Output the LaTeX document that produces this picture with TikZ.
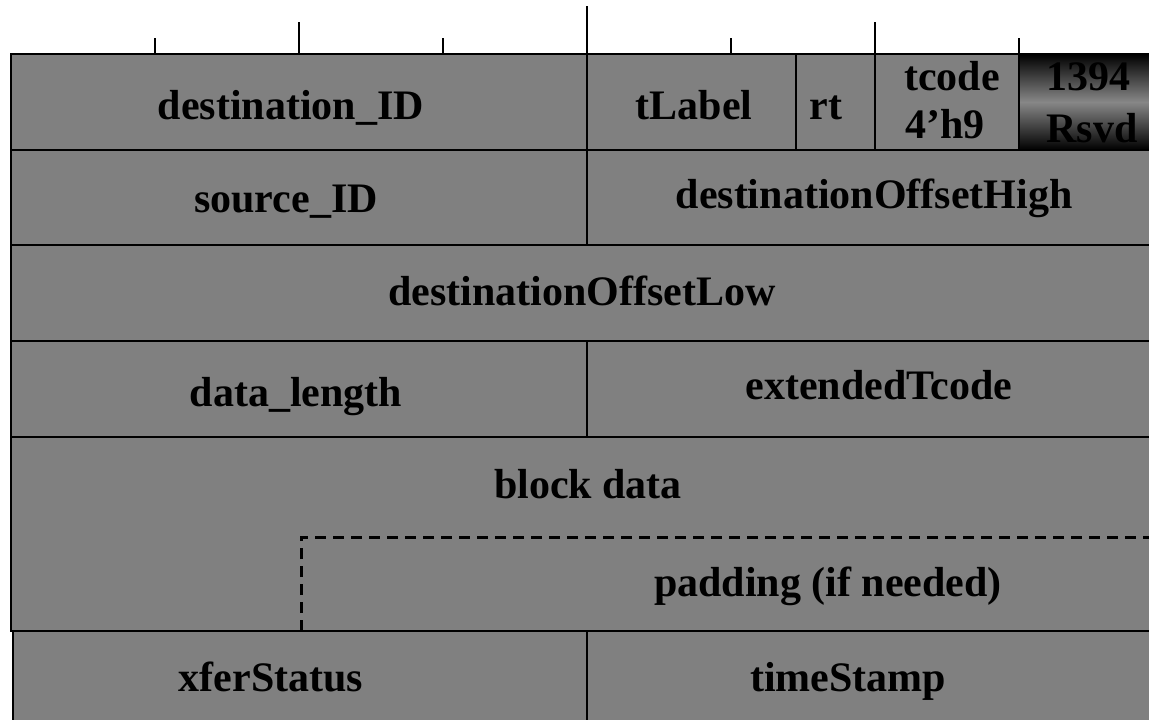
\documentclass[tikz,border=0pt]{standalone}
\usepackage{fontspec}
\setmainfont{Liberation Serif}
\begin{document}
\begin{tikzpicture}[x=1pt,y=-1pt,
  cell/.style={fill={rgb,255:red,128;green,128;blue,128},draw=black,line width=2.7pt},
  lbl/.style={anchor=base,inner sep=0pt,font=\fontsize{42}{42}\selectfont\bfseries,text=black},
  tick/.style={draw=black,line width=2.5pt},
  pad/.style={draw=black,line width=3pt,dash pattern=on 11pt off 7pt}]
\useasboundingbox (0,0) rectangle (1149,720);
\clip (0,0) rectangle (1149,720);
% ticks
\foreach \x in {155,443,731,1019} \draw[tick] (\x,38) -- (\x,54);
\foreach \x in {299,875} \draw[tick] (\x,22) -- (\x,54);
\draw[tick] (587,6) -- (587,54);
% row 1
\draw[cell] (11,54) rectangle (587,150);
\draw[cell] (587,54) rectangle (796,150);
\draw[cell] (796,54) rectangle (875,150);
\draw[cell] (875,54) rectangle (1019,150);
\shade[top color=black,bottom color=black,middle color={rgb,255:red,135;green,135;blue,135}] (1019,54) rectangle (1165,150);
\draw[draw=black,line width=2.7pt] (1019,54) rectangle (1165,150);
% row 2
\draw[cell] (11,150) rectangle (587,245);
\draw[cell] (587,150) rectangle (1165,245);
% row 3
\draw[cell] (11,245) rectangle (1165,341);
% row 4
\draw[cell] (11,341) rectangle (587,437);
\draw[cell] (587,341) rectangle (1165,437);
% row 5
\draw[cell] (11,437) rectangle (1165,631);
\coordinate (padTL) at (301,537);
\coordinate (padBL) at (301,631);
\coordinate (padTR) at (1165,537);
\coordinate (padBR) at (1165,631);
\draw[pad] (padBL) -- (padTL) -- (padTR);
\draw[pad] (padBL) -- (padBR);
% row 6
\draw[cell] (13,631) rectangle (587,740);
\draw[cell] (587,631) rectangle (1165,740);
% labels
\node[lbl] (dst) at (291,119) {destination\_ID};
\node[lbl] (tl) at (694,119) {tLabel};
\node[lbl] (rt) at (826,119) {rt};
\node[lbl] (tc1) at (952,90) {tcode};
\node[lbl] (tc2) at (945,138) {4’h9};
\node[lbl] (rs1) at (1088,90) {1394};
\node[lbl] (rs2) at (1092,142) {Rsvd};
\node[lbl] (src) at (286,212) {source\_ID};
\node[lbl] (doh) at (874,208) {destinationOffsetHigh};
\node[lbl] (dol) at (582,305) {destinationOffsetLow};
\node[lbl] (dl) at (296,406) {data\_length};
\node[lbl] (et) at (879,399) {extendedTcode};
\node[lbl] (bd) at (588,498) {block data};
\node[lbl] (pd) at (828,596) {padding (if needed)};
\node[lbl] (xs) at (271,691) {xferStatus};
\node[lbl] (ts) at (848,691) {timeStamp};
\end{tikzpicture}
\end{document}
